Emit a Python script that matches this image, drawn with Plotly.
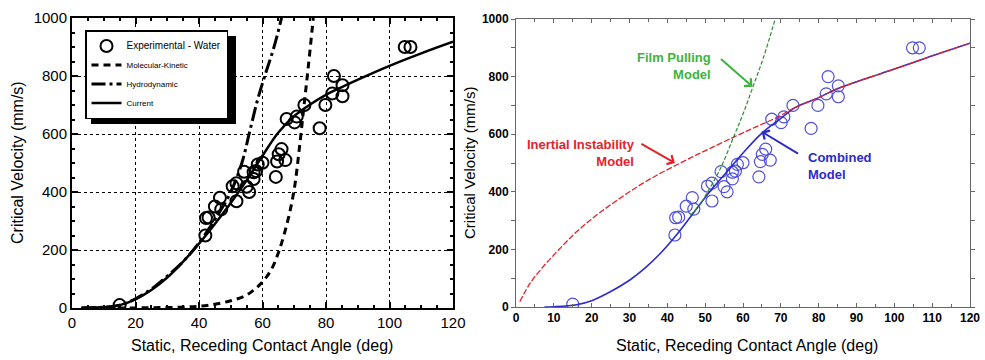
import plotly.graph_objects as go

# ---------------- data ----------------
exp_angle = [15, 42.0, 42.2, 43.0, 45.0, 46.6, 47.0, 50.6, 51.8, 51.8, 54.2, 55.0, 55.8,
             57.2, 58.0, 57.2, 58.5, 60.0, 64.2, 64.6, 65.1, 66.0, 67.2, 67.6, 70.1,
             70.8, 73.2, 78.0, 79.8, 82.5, 82.0, 85.2, 85.2, 104.8, 106.6]
exp_vel = [10, 250, 310, 312, 350, 380, 340, 420, 430, 368, 470, 418, 400,
           468, 472, 445, 495, 501, 452, 505, 530, 548, 510, 652, 640,
           660, 700, 620, 700, 800, 740, 768, 730, 900, 900]

# left panel models
mk_angle = [3, 15, 25, 35, 40, 45, 50, 54.4, 57, 59.6, 62.7, 65.3, 68, 70, 71.5, 73, 74.5, 76]
mk_vel = [0, 0, 1, 3, 6, 13, 25, 41, 60, 85, 131, 200, 303, 410, 540, 690, 840, 1000]

hd_angle = [3, 10, 15, 20, 25, 30, 35, 40, 45, 50, 53.5, 56, 58.5, 61, 63.5, 66]
hd_vel = [0, 3, 10, 32, 65, 110, 160, 225, 305, 400, 500, 610, 720, 810, 895, 1000]

cur_angle = [3, 10, 15, 20, 25, 30, 35, 40, 45, 50, 55, 60, 65, 70, 75, 80, 85, 92, 100, 110, 120]
cur_vel = [0, 3, 10, 30, 62, 105, 160, 222, 290, 362, 440, 525, 605, 662, 702, 735, 762, 797, 835, 878, 918]

# right panel models
ii_angle = [1, 3.7, 7.2, 11.6, 16, 20.4, 24.8, 29.2, 33.6, 38, 42.4, 46.8, 51.2, 57.6, 63,
            68.6, 74, 80, 84.6, 92, 100, 110, 120]
ii_vel = [18, 82, 140, 203, 261, 310, 353, 393, 430, 463, 493, 522, 550, 590, 623,
          656, 694, 727, 756, 791, 826, 872, 916]

comb_angle = [7.5, 10, 16, 20, 24.8, 30, 34, 38, 42.4, 46.8, 51.2, 55, 60, 65, 70, 74,
              80, 84.6, 92, 100, 110, 120]
comb_vel = [0, 1, 8, 22, 52, 93, 134, 184, 250, 325, 400, 458, 535, 604, 655, 694,
            727, 756, 791, 826, 872, 916]

fp_angle = [46, 48.4, 50, 54, 57.6, 60, 62.5, 65.5, 68.5]
fp_vel = [318, 351, 385, 480, 593, 670, 760, 870, 1000]

W, H = 985, 360
FONT = "Liberation Sans, Arial, Helvetica, sans-serif"
RED = "#e3232b"
BLUE = "#2b2bc8"
GREEN = "#3cb43c"

fig = go.Figure()

# ---- left panel ----
fig.add_trace(go.Scatter(x=exp_angle, y=exp_vel, mode="markers",
                         name="<span style='font-size:10px'>Experimental - Water</span>",
                         marker=dict(symbol="circle-open", size=12, color="black",
                                     line=dict(width=2, color="black")),
                         xaxis="x", yaxis="y"))
fig.add_trace(go.Scatter(x=mk_angle, y=mk_vel, mode="lines", name="Molecular-Kinetic",
                         line=dict(color="black", width=3, dash="7px,5px", shape="spline"),
                         xaxis="x", yaxis="y"))
fig.add_trace(go.Scatter(x=hd_angle, y=hd_vel, mode="lines", name="Hydrodynamic",
                         line=dict(color="black", width=3, dash="14px,4px,3px,4px", shape="spline"),
                         xaxis="x", yaxis="y"))
fig.add_trace(go.Scatter(x=cur_angle, y=cur_vel, mode="lines", name="Current",
                         line=dict(color="black", width=2.5, shape="spline"),
                         xaxis="x", yaxis="y"))

# ---- right panel ----
fig.add_trace(go.Scatter(x=exp_angle, y=exp_vel, mode="markers", showlegend=False,
                         marker=dict(symbol="circle-open", size=12, color="#5050dc",
                                     line=dict(width=1.2, color="#5050dc")),
                         xaxis="x2", yaxis="y2"))
fig.add_trace(go.Scatter(x=comb_angle, y=comb_vel, mode="lines", showlegend=False,
                         line=dict(color=BLUE, width=1.6, shape="spline"),
                         xaxis="x2", yaxis="y2"))
fig.add_trace(go.Scatter(x=ii_angle, y=ii_vel, mode="lines", showlegend=False,
                         line=dict(color=RED, width=1.3, dash="6px,2px", shape="spline"),
                         xaxis="x2", yaxis="y2"))
fig.add_trace(go.Scatter(x=fp_angle, y=fp_vel, mode="lines", showlegend=False,
                         line=dict(color="#2f8f2f", width=1.2, dash="4px,2px", shape="spline"),
                         xaxis="x2", yaxis="y2"))

left_axis_common = dict(showline=True, linewidth=2, linecolor="black", mirror="ticks",
                        ticks="inside", ticklen=6, tickwidth=1.5, tickcolor="black",
                        showgrid=True, gridcolor="black", gridwidth=1, griddash="dot",
                        zeroline=False, tickfont=dict(family=FONT, size=15, color="black"),
                        automargin=False)

fig.update_layout(
    width=W, height=H,
    margin=dict(l=0, r=0, t=0, b=0),
    paper_bgcolor="white", plot_bgcolor="white",
    font=dict(family=FONT, color="black"),
    xaxis=dict(domain=[72 / W, 453 / W], range=[0, 120], dtick=20, anchor="y",
               minor=dict(dtick=5, ticks="inside", ticklen=3, tickcolor="black", showgrid=False),
               **left_axis_common),
    yaxis=dict(domain=[52 / H, 342 / H], range=[0, 1000], dtick=200, anchor="x",
               minor=dict(dtick=50, ticks="inside", ticklen=3, tickcolor="black", showgrid=False),
               **left_axis_common),
    xaxis2=dict(domain=[516 / W, 970 / W], range=[0, 120], dtick=10, anchor="y2",
                showline=True, linewidth=1, linecolor="#666666", mirror="ticks",
                ticks="inside", ticklen=4, tickcolor="#666666",
                minor=dict(dtick=5, ticks="inside", ticklen=3, tickcolor="#666666"),
                showgrid=False, zeroline=False, automargin=False,
                tickfont=dict(family=FONT, size=12, color="black", weight="bold")),
    yaxis2=dict(domain=[53 / H, 341 / H], range=[0, 1000], dtick=200, anchor="x2",
                showline=True, linewidth=1, linecolor="#666666", mirror="ticks",
                ticks="outside", ticklen=4, tickcolor="#666666",
                minor=dict(dtick=100, ticks="outside", ticklen=4, tickcolor="#666666"),
                showgrid=False, zeroline=False, automargin=False,
                tickfont=dict(family=FONT, size=12, color="black", weight="bold")),
    legend=dict(x=85 / W, y=1 - 30 / H, xanchor="left", yanchor="top",
                bgcolor="white", bordercolor="black", borderwidth=1.5,
                font=dict(family=FONT, size=8, color="black"),
                itemwidth=30, tracegroupgap=0),
    showlegend=True,
)

# legend drop shadow (sits between grid and traces, hidden behind the legend box)
fig.add_shape(type="rect", xref="paper", yref="paper",
              x0=91 / W, x1=236 / W, y0=1 - 124 / H, y1=1 - 36 / H,
              fillcolor="black", line=dict(width=0), layer="between")

annotations = [
    # axis titles
    dict(text="Static, Receding Contact Angle (deg)", x=262 / W, y=1 - 345 / H,
         xref="paper", yref="paper", xanchor="center", yanchor="middle",
         showarrow=False, font=dict(size=16, family=FONT)),
    dict(text="Critical Velocity (mm/s)", x=18 / W, y=1 - 163 / H, textangle=-90,
         xref="paper", yref="paper", xanchor="center", yanchor="middle",
         showarrow=False, font=dict(size=16, family=FONT)),
    dict(text="Static, Receding Contact Angle (deg)", x=747 / W, y=1 - 345 / H,
         xref="paper", yref="paper", xanchor="center", yanchor="middle",
         showarrow=False, font=dict(size=16, family=FONT)),
    dict(text="Critical Velocity (mm/s)", x=470 / W, y=1 - 163 / H, textangle=-90,
         xref="paper", yref="paper", xanchor="center", yanchor="middle",
         showarrow=False, font=dict(size=15, family=FONT)),
    # model labels
    dict(text="Film Pulling<br>Model", x=713 / W, y=1 - 66 / H, xref="paper", yref="paper",
         xanchor="right", yanchor="middle", align="right", showarrow=False,
         font=dict(size=13, family=FONT, color=GREEN, weight="bold")),
    dict(text="Inertial Instability<br>Model", x=637 / W, y=1 - 153 / H, xref="paper", yref="paper",
         xanchor="right", yanchor="middle", align="right", showarrow=False,
         font=dict(size=13, family=FONT, color=RED, weight="bold")),
    dict(text="Combined<br>Model", x=806 / W, y=1 - 166 / H, xref="paper", yref="paper",
         xanchor="left", yanchor="middle", align="left", showarrow=False,
         font=dict(size=13, family=FONT, color=BLUE, weight="bold")),
    # arrows
    dict(text="", x=62.5, y=765, xref="x2", yref="y2", ax=-33, ay=-29, showarrow=True,
         arrowhead=4, arrowsize=1, arrowwidth=2, arrowcolor=GREEN),
    dict(text="", x=42.0, y=500, xref="x2", yref="y2", ax=-35, ay=-20, showarrow=True,
         arrowhead=4, arrowsize=1, arrowwidth=2, arrowcolor=RED),
    dict(text="", x=64.9, y=609, xref="x2", yref="y2", ax=38, ay=23, showarrow=True,
         arrowhead=4, arrowsize=1, arrowwidth=2, arrowcolor=BLUE),
]
fig.update_layout(annotations=annotations)

fig.write_html("out.html")
